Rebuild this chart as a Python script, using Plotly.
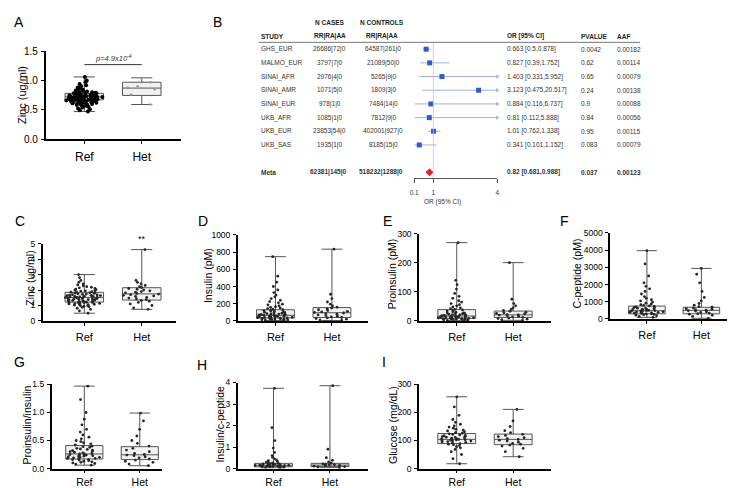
import plotly.graph_objects as go

W, H = 735, 488
FONT = "Liberation Sans, Arial, Helvetica, sans-serif"
GROUPS = ["Ref", "Het"]

# ---------------- box statistics: [min, q1, median, q3, max] ----------------
A_REF = [0.47, 0.67, 0.72, 0.78, 1.06]
A_HET = [0.59, 0.745, 0.87, 0.97, 1.045]
C_REF = [0.50, 1.22, 1.52, 1.85, 3.00]
C_HET = [0.75, 1.35, 1.75, 2.15, 4.62]
D_REF = [5, 35, 65, 130, 747]
D_HET = [5, 40, 95, 155, 834]
E_REF = [1, 9, 17, 39, 270]
E_HET = [2, 12, 21, 34, 201]
F_REF = [95, 300, 480, 750, 3970]
F_HET = [40, 300, 500, 680, 2940]
G_REF = [0.06, 0.17, 0.26, 0.41, 1.47]
G_HET = [0.05, 0.16, 0.245, 0.39, 0.99]
H_REF = [0.03, 0.08, 0.15, 0.24, 3.73]
H_HET = [0.04, 0.09, 0.16, 0.24, 3.85]
I_REF = [17, 89, 104, 125, 256]
I_HET = [42, 85, 104, 123, 211]

# ---------------- individual sample points (read approximately) ----------------
A_REF_DOTS = [0.47, 0.49, 0.51, 0.52, 0.54, 0.55, 0.56, 0.57, 0.58, 0.58, 0.59, 0.60, 0.60,
              0.61, 0.61, 0.62, 0.62, 0.62, 0.63, 0.63, 0.63, 0.64, 0.64, 0.64, 0.65, 0.65,
              0.65, 0.65, 0.66, 0.66, 0.66, 0.66, 0.67, 0.67, 0.67, 0.67, 0.68, 0.68, 0.68,
              0.68, 0.69, 0.69, 0.69, 0.69, 0.70, 0.70, 0.70, 0.70, 0.71, 0.71, 0.71, 0.71,
              0.72, 0.72, 0.72, 0.72, 0.73, 0.73, 0.73, 0.73, 0.74, 0.74, 0.74, 0.75, 0.75,
              0.75, 0.76, 0.76, 0.76, 0.77, 0.77, 0.78, 0.78, 0.79, 0.79, 0.80, 0.80, 0.81,
              0.82, 0.83, 0.84, 0.85, 0.86, 0.87, 0.88, 0.90, 0.92, 0.94, 0.97, 1.00, 1.06]
A_HET_DOTS = [0.59, 0.76, 0.85, 0.88, 0.90, 0.97, 1.04]
C_REF_DOTS = [0.50, 0.65, 0.75, 0.82, 0.88, 0.92, 0.95, 0.98, 1.00, 1.02, 1.05, 1.07, 1.08,
              1.10, 1.12, 1.13, 1.15, 1.16, 1.18, 1.19, 1.20, 1.21, 1.22, 1.24, 1.25, 1.27,
              1.28, 1.30, 1.31, 1.33, 1.34, 1.35, 1.37, 1.38, 1.40, 1.41, 1.42, 1.44, 1.45,
              1.46, 1.48, 1.49, 1.50, 1.51, 1.52, 1.53, 1.55, 1.56, 1.57, 1.58, 1.60, 1.61,
              1.63, 1.64, 1.66, 1.67, 1.69, 1.70, 1.72, 1.74, 1.76, 1.78, 1.80, 1.82, 1.84,
              1.86, 1.88, 1.90, 1.93, 1.95, 1.98, 2.00, 2.03, 2.06, 2.10, 2.14, 2.18, 2.22,
              2.27, 2.33, 2.40, 2.50, 2.62, 2.80, 3.00]
C_HET_DOTS = [0.75, 0.85, 1.00, 1.10, 1.20, 1.28, 1.33, 1.38, 1.42, 1.48, 1.52, 1.58, 1.62,
              1.66, 1.70, 1.74, 1.78, 1.82, 1.86, 1.90, 1.95, 2.00, 2.05, 2.10, 2.15, 2.22,
              2.30, 2.40, 2.50, 2.62, 4.62]
D_REF_DOTS = [5, 8, 12, 15, 18, 20, 22, 25, 27, 30, 32, 34, 36, 38, 40, 42, 44, 46, 48, 50,
              52, 54, 56, 58, 60, 62, 64, 66, 68, 70, 72, 75, 78, 80, 83, 86, 90, 94, 98, 102,
              106, 110, 115, 120, 125, 130, 136, 142, 150, 158, 165, 175, 185, 195, 210, 225,
              240, 260, 280, 300, 330, 360, 400, 450, 520, 747]
D_HET_DOTS = [5, 12, 20, 28, 35, 40, 48, 55, 62, 70, 78, 85, 92, 98, 105, 112, 120, 130,
              140, 150, 160, 175, 195, 220, 260, 310, 834]
E_REF_DOTS = [1, 2, 3, 4, 5, 6, 6, 7, 7, 8, 8, 9, 9, 10, 10, 11, 11, 12, 12, 13, 13, 14, 14,
              15, 15, 16, 16, 17, 17, 18, 18, 19, 20, 21, 22, 23, 24, 25, 26, 27, 28, 30, 32,
              34, 36, 38, 40, 42, 45, 48, 52, 56, 60, 65, 70, 78, 85, 95, 110, 125, 140, 270]
E_HET_DOTS = [2, 4, 6, 8, 10, 12, 14, 16, 18, 20, 21, 22, 24, 26, 28, 30, 33, 36, 40, 45,
              52, 60, 75, 201]
F_REF_DOTS = [95, 150, 190, 220, 250, 270, 290, 305, 320, 335, 350, 365, 380, 395, 410, 425,
              440, 455, 470, 480, 490, 505, 520, 535, 550, 570, 590, 610, 630, 655, 680, 705,
              730, 760, 790, 830, 870, 920, 980, 1050, 1120, 1200, 1300, 1450, 1600, 1750,
              1900, 2100, 2500, 3200, 3970]
F_HET_DOTS = [40, 150, 220, 280, 310, 340, 380, 420, 460, 490, 510, 540, 570, 600, 640, 680,
              720, 800, 900, 1050, 1250, 1600, 2100, 2600, 2940]
G_REF_DOTS = [0.06, 0.08, 0.09, 0.10, 0.11, 0.12, 0.13, 0.14, 0.15, 0.16, 0.16, 0.17, 0.18,
              0.18, 0.19, 0.20, 0.20, 0.21, 0.22, 0.22, 0.23, 0.24, 0.24, 0.25, 0.26, 0.26,
              0.27, 0.28, 0.29, 0.30, 0.31, 0.32, 0.33, 0.34, 0.35, 0.36, 0.38, 0.39, 0.40,
              0.42, 0.44, 0.46, 0.48, 0.50, 0.53, 0.56, 0.60, 0.65, 0.70, 0.78, 0.88, 1.00,
              1.23, 1.47]
G_HET_DOTS = [0.05, 0.08, 0.11, 0.13, 0.15, 0.17, 0.19, 0.21, 0.23, 0.24, 0.25, 0.27, 0.30,
              0.33, 0.36, 0.40, 0.45, 0.50, 0.58, 0.70, 0.85, 0.99]
H_REF_DOTS = [0.03, 0.05, 0.06, 0.07, 0.08, 0.09, 0.10, 0.10, 0.11, 0.12, 0.12, 0.13, 0.13,
              0.14, 0.14, 0.15, 0.15, 0.16, 0.16, 0.17, 0.18, 0.19, 0.20, 0.21, 0.22, 0.23,
              0.24, 0.26, 0.28, 0.30, 0.33, 0.36, 0.40, 0.45, 0.52, 0.60, 0.75, 0.95, 1.30,
              1.90, 3.73]
H_HET_DOTS = [0.04, 0.07, 0.09, 0.11, 0.13, 0.15, 0.16, 0.18, 0.20, 0.22, 0.25, 0.30, 0.38,
              0.50, 0.90, 3.85]
I_REF_DOTS = [17, 35, 50, 60, 68, 74, 78, 82, 85, 87, 89, 91, 93, 95, 96, 98, 99, 100, 101,
              102, 103, 104, 105, 106, 107, 108, 110, 111, 112, 114, 115, 117, 118, 120, 122,
              124, 126, 128, 131, 134, 137, 140, 144, 148, 152, 158, 165, 175, 190, 220, 256]
I_HET_DOTS = [42, 60, 72, 80, 84, 87, 90, 94, 98, 101, 104, 107, 110, 114, 118, 122, 128,
              135, 150, 170, 211]

# ---------------- forest plot (panel B) ----------------
STUDIES = ["GHS_EUR", "MALMO_EUR", "SINAI_AFR", "SINAI_AMR", "SINAI_EUR", "UKB_AFR",
           "UKB_EUR", "UKB_SAS"]
N_CASES = ["26686|72|0", "3797|7|0", "2976|4|0", "1071|5|0", "978|1|0", "1085|1|0",
           "23853|54|0", "1935|1|0"]
N_CONTROLS = ["64587|261|0", "21089|50|0", "5265|9|0", "1809|3|0", "7484|14|0", "7812|9|0",
              "402001|927|0", "8185|15|0"]
OR_VALS = [0.663, 0.827, 1.403, 3.123, 0.884, 0.81, 1.01, 0.341]
CI_LOW = [0.5, 0.39, 0.331, 0.475, 0.116, 0.112, 0.762, 0.101]
CI_HIGH = [0.878, 1.752, 5.952, 20.517, 6.737, 5.888, 1.338, 1.152]
PVALUES = ["0.0042", "0.62", "0.65", "0.24", "0.9", "0.84", "0.95", "0.083"]
AAF = ["0.00182", "0.00114", "0.00079", "0.00138", "0.00088", "0.00056", "0.00115", "0.00079"]
META_N_CASES = "62381|145|0"
META_N_CONTROLS = "518232|1288|0"
META_OR, META_LOW, META_HIGH = 0.82, 0.681, 0.988
META_P, META_AAF = "0.037", "0.00123"
FOREST_TICKS = [0.1, 1, 4]
NULL_OR = 1

# ---------------- layout helpers ----------------
def fx(px):
    return px / W


def fy(py):
    return 1 - py / H


DOT = "#262626"
PANELS = [
    dict(label="A", lab=(6, 8), title="Zinc (ug/ml)", tpos=(9, 83), x0=33, x1=170, pref=72, phet=130,
         yb=128, yt=38, ymax=1.5, dtick=0.5, fmt=".1f", box=(A_REF, A_HET),
         dots=(A_REF_DOTS, A_HET_DOTS), tf=10, cf=12, so=3, dsize=(4, 2.5), dcol=("#000000", "#9a9a9a")),
    dict(label="C", lab=(7, 212), title="Zinc (ug/ml)", tpos=(17, 270), x0=30, x1=165, pref=72, phet=130,
         yb=314, yt=235, ymax=5, dtick=1, fmt="d", box=(C_REF, C_HET),
         dots=(C_REF_DOTS, C_HET_DOTS), tf=8.5, cf=11, so=2, dsize=(2.8, 2.8), dcol=(DOT, DOT)),
    dict(label="D", lab=(192, 212), title="Insulin (pM)", tpos=(197, 268), x0=227, x1=358, pref=265, phet=322,
         yb=314, yt=226, ymax=1000, dtick=200, fmt="d", box=(D_REF, D_HET),
         dots=(D_REF_DOTS, D_HET_DOTS), tf=8.5, cf=11, so=2, dsize=(2.8, 2.8), dcol=(DOT, DOT)),
    dict(label="E", lab=(378, 212), title="Proinsulin (pM)", tpos=(383, 266), x0=410, x1=543, pref=448, phet=505,
         yb=314, yt=225, ymax=300, dtick=100, fmt="d", box=(E_REF, E_HET),
         dots=(E_REF_DOTS, E_HET_DOTS), tf=8.5, cf=11, so=2, dsize=(2.8, 2.8), dcol=(DOT, DOT)),
    dict(label="F", lab=(557, 212), title="C-peptide (pM)", tpos=(569, 266), x0=603, x1=728, pref=640, phet=695,
         yb=312, yt=224, ymax=5000, dtick=1000, fmt="d", box=(F_REF, F_HET),
         dots=(F_REF_DOTS, F_HET_DOTS), tf=8.5, cf=11, so=2, dsize=(2.8, 2.8), dcol=(DOT, DOT)),
    dict(label="G", lab=(7, 356), title="Proinsulin/insulin", tpos=(14, 420), x0=39, x1=150, pref=72, phet=128,
         yb=465, yt=379, ymax=1.5, dtick=0.5, fmt=".1f", box=(G_REF, G_HET),
         dots=(G_REF_DOTS, G_HET_DOTS), tf=8.5, cf=10.5, so=0, dsize=(2.8, 2.8), dcol=(DOT, DOT)),
    dict(label="H", lab=(191, 359), title="Insulin/c-peptide", tpos=(209, 420), x0=227, x1=358, pref=263, phet=320,
         yb=465, yt=377, ymax=4, dtick=1, fmt="d", box=(H_REF, H_HET),
         dots=(H_REF_DOTS, H_HET_DOTS), tf=8.5, cf=10.5, so=0, dsize=(2.8, 2.8), dcol=(DOT, DOT)),
    dict(label="I", lab=(375, 356), title="Glucose (mg/dL)", tpos=(383, 420), x0=410, x1=543, pref=448, phet=505,
         yb=465, yt=379, ymax=300, dtick=100, fmt="d", box=(I_REF, I_HET),
         dots=(I_REF_DOTS, I_HET_DOTS), tf=8.5, cf=10.5, so=0, dsize=(2.8, 2.8), dcol=(DOT, DOT)),
]

fig = go.Figure()
layout = dict(width=W, height=H, margin=dict(l=0, r=0, t=0, b=0), autosize=False,
              paper_bgcolor="white", plot_bgcolor="white", showlegend=False,
              font=dict(family=FONT, color="black"), boxmode="overlay")
annotations = []
shapes = []

BOX_W = 0.67
for i, p in enumerate(PANELS, start=1):
    xk = "x" if i == 1 else f"x{i}"
    yk = "y" if i == 1 else f"y{i}"
    ref_s, het_s = p["box"]
    fig.add_trace(go.Box(
        x=GROUPS,
        lowerfence=[ref_s[0], het_s[0]], q1=[ref_s[1], het_s[1]], median=[ref_s[2], het_s[2]],
        q3=[ref_s[3], het_s[3]], upperfence=[ref_s[4], het_s[4]],
        boxpoints=False, width=BOX_W, whiskerwidth=0.55, fillcolor="#f1f1f1",
        line=dict(color="#555555", width=1), xaxis=xk, yaxis=yk, hoverinfo="skip"))
    for g, vals, sz, col in zip(GROUPS, p["dots"], p["dsize"], p["dcol"]):
        fig.add_trace(go.Box(
            x=[g] * len(vals), y=vals, boxpoints="all", jitter=1.0, pointpos=0, width=BOX_W,
            fillcolor="rgba(0,0,0,0)", line=dict(color="rgba(0,0,0,0)", width=0),
            marker=dict(size=sz, color=col, line=dict(width=0)), xaxis=xk, yaxis=yk,
            hoverinfo="y"))
    unit = p["phet"] - p["pref"]
    xr = [(p["x0"] - p["pref"]) / unit, (p["x1"] - p["pref"]) / unit]
    layout["xaxis" if i == 1 else f"xaxis{i}"] = dict(
        domain=[fx(p["x0"]), fx(p["x1"])], range=xr, type="category",
        categoryorder="array", categoryarray=GROUPS, anchor=yk,
        showline=True, linecolor="black", linewidth=1.6, ticks="outside", ticklen=3,
        tickwidth=1.2, tickcolor="black", tickfont=dict(size=p["cf"], family=FONT, color="black"),
        showgrid=False, zeroline=False, ticklabelstandoff=p["so"])
    layout["yaxis" if i == 1 else f"yaxis{i}"] = dict(
        domain=[fy(p["yb"]), fy(p["yt"])], range=[0, p["ymax"]], anchor=xk,
        tick0=0, dtick=p["dtick"], tickformat=p["fmt"],
        showline=True, linecolor="black", linewidth=1.6, ticks="outside", ticklen=3,
        tickwidth=1.2, tickcolor="black", tickfont=dict(size=p["tf"], family=FONT, color="black"),
        showgrid=False, zeroline=False, ticklabelstandoff=1)
    annotations.append(dict(text=p["label"], x=fx(p["lab"][0]), y=fy(p["lab"][1]), xref="paper",
                            yref="paper", xanchor="center", yanchor="middle", showarrow=False,
                            font=dict(size=14, family=FONT, color="black")))
    annotations.append(dict(text=p["title"], x=fx(p["tpos"][0]), y=fy(p["tpos"][1]), xref="paper",
                            yref="paper", xanchor="center", yanchor="middle", showarrow=False,
                            textangle=-90, font=dict(size=11 if i == 1 else 10.5, family=FONT,
                                                      color="black")))

# significance marks
shapes.append(dict(type="line", xref="x", yref="y", x0=GROUPS[0], x1=GROUPS[1], y0=1.27, y1=1.27,
                   line=dict(color="#333", width=1)))
annotations.append(dict(text="<i>p=4.9x10<sup>-4</sup></i>", xref="paper", yref="y",
                        x=fx(101), y=1.27, yanchor="bottom", xanchor="center", yshift=0,
                        showarrow=False, font=dict(size=7.5, family=FONT, color="#333")))
annotations.append(dict(text="**", xref="x2", yref="y2", x=GROUPS[1], y=C_HET[4], yshift=11,
                        xanchor="center", yanchor="middle", showarrow=False,
                        font=dict(size=9, family=FONT, color="black")))

# ---------------- forest plot ----------------
FX0, FX1 = 405, 489
FY_TOP, FY_BOT = 29, 168
n = len(STUDIES)
meta_row = n + 1
row_ids = list(range(n))
layout["xaxis9"] = dict(domain=[fx(FX0), fx(FX1)], range=[FOREST_TICKS[0], FOREST_TICKS[-1]],
                        anchor="y9", tickvals=FOREST_TICKS, ticktext=[str(t) for t in FOREST_TICKS],
                        showline=True, linecolor="#555", linewidth=0.8, ticks="outside", ticklen=4,
                        tickwidth=0.8, tickcolor="#555", showgrid=False, zeroline=False,
                        tickfont=dict(size=6.5, family=FONT, color="#333"), ticklabelstandoff=4)
layout["yaxis9"] = dict(domain=[fy(FY_BOT), fy(FY_TOP)], range=[meta_row + 0.43, -0.5], anchor="x9",
                        visible=False)

shapes.append(dict(type="line", xref="x9", yref="y9 domain", x0=NULL_OR, x1=NULL_OR, y0=0, y1=1,
                   line=dict(color="#c8c8c8", width=0.8)))
shapes.append(dict(type="line", xref="paper", yref="paper", x0=fx(248), x1=fx(633), y0=fy(FY_TOP),
                   y1=fy(FY_TOP), line=dict(color="#555", width=0.8)))

XMIN, XMAX = FOREST_TICKS[0], FOREST_TICKS[-1]
CI_COL = "#9fb1ea"
ci_x, ci_y, arr_x, arr_y = [], [], [], []
for r, lo, hi in zip(row_ids, CI_LOW, CI_HIGH):
    ci_x += [max(lo, XMIN), min(hi, XMAX), None]
    ci_y += [r, r, None]
    if hi > XMAX:
        arr_x.append(XMAX)
        arr_y.append(r)
fig.add_trace(go.Scatter(x=ci_x, y=ci_y, mode="lines", line=dict(color=CI_COL, width=1),
                         xaxis="x9", yaxis="y9", hoverinfo="skip", cliponaxis=False))
fig.add_trace(go.Scatter(x=arr_x, y=arr_y, mode="markers",
                         marker=dict(symbol="triangle-right", size=4, color=CI_COL),
                         xaxis="x9", yaxis="y9", hoverinfo="skip", cliponaxis=False))
fig.add_trace(go.Scatter(x=OR_VALS, y=row_ids, mode="markers",
                         marker=dict(symbol="square", size=5, color="#3457d5"),
                         xaxis="x9", yaxis="y9", cliponaxis=False))
fig.add_trace(go.Scatter(x=[META_LOW, META_HIGH], y=[meta_row, meta_row], mode="lines",
                         line=dict(color="#e8202a", width=1), xaxis="x9", yaxis="y9"))
fig.add_trace(go.Scatter(x=[META_OR], y=[meta_row], mode="markers",
                         marker=dict(symbol="diamond", size=6, color="#e8202a"),
                         xaxis="x9", yaxis="y9"))

TXT = "#333333"
FS = 6.5


def tab(text, px, row, anchor="left", bold=False, size=FS):
    return dict(text=f"<b>{text}</b>" if bold else text, x=fx(px), y=row, xref="paper", yref="y9",
                xanchor=anchor, yanchor="middle", showarrow=False,
                font=dict(size=size, family=FONT, color=TXT))


def head(text, px, py, anchor="left"):
    return dict(text=f"<b>{text}</b>", x=fx(px), y=fy(py), xref="paper", yref="paper",
                xanchor=anchor, yanchor="middle", showarrow=False,
                font=dict(size=FS, family=FONT, color="#222"))


annotations += [
    dict(text="B", x=fx(206), y=fy(8), xref="paper", yref="paper", xanchor="center",
         yanchor="middle", showarrow=False, font=dict(size=14, family=FONT, color="black")),
    head("N CASES", 320, 9, "center"), head("N CONTROLS", 373, 9, "center"),
    head("STUDY", 248, 23), head("RR|RA|AA", 320, 23, "center"), head("RR|RA|AA", 373, 23, "center"),
    head("OR [95% CI]", 497, 23), head("PVALUE", 571, 23), head("AAF", 608, 23),
]
for r in row_ids:
    annotations += [
        tab(STUDIES[r], 248, r),
        tab(N_CASES[r], 320, r, "center"),
        tab(N_CONTROLS[r], 374, r, "center"),
        tab(f"{OR_VALS[r]} [{CI_LOW[r]},{CI_HIGH[r]}]", 497, r),
        tab(PVALUES[r], 571, r),
        tab(AAF[r], 608, r),
    ]
annotations += [
    tab("Meta", 248, meta_row, bold=True),
    tab(META_N_CASES, 319, meta_row, "center", bold=True),
    tab(META_N_CONTROLS, 372, meta_row, "center", bold=True),
    tab(f"{META_OR} [{META_LOW},{META_HIGH}]", 497, meta_row, bold=True),
    tab(META_P, 571, meta_row, bold=True),
    tab(META_AAF, 608, meta_row, bold=True),
    dict(text="OR (95% CI)", x=fx(434), y=fy(192), xref="paper", yref="paper", xanchor="center",
         yanchor="middle", showarrow=False, font=dict(size=FS, family=FONT, color=TXT)),
]

layout["annotations"] = annotations
layout["shapes"] = shapes
fig.update_layout(**layout)
fig.write_html("out.html")
